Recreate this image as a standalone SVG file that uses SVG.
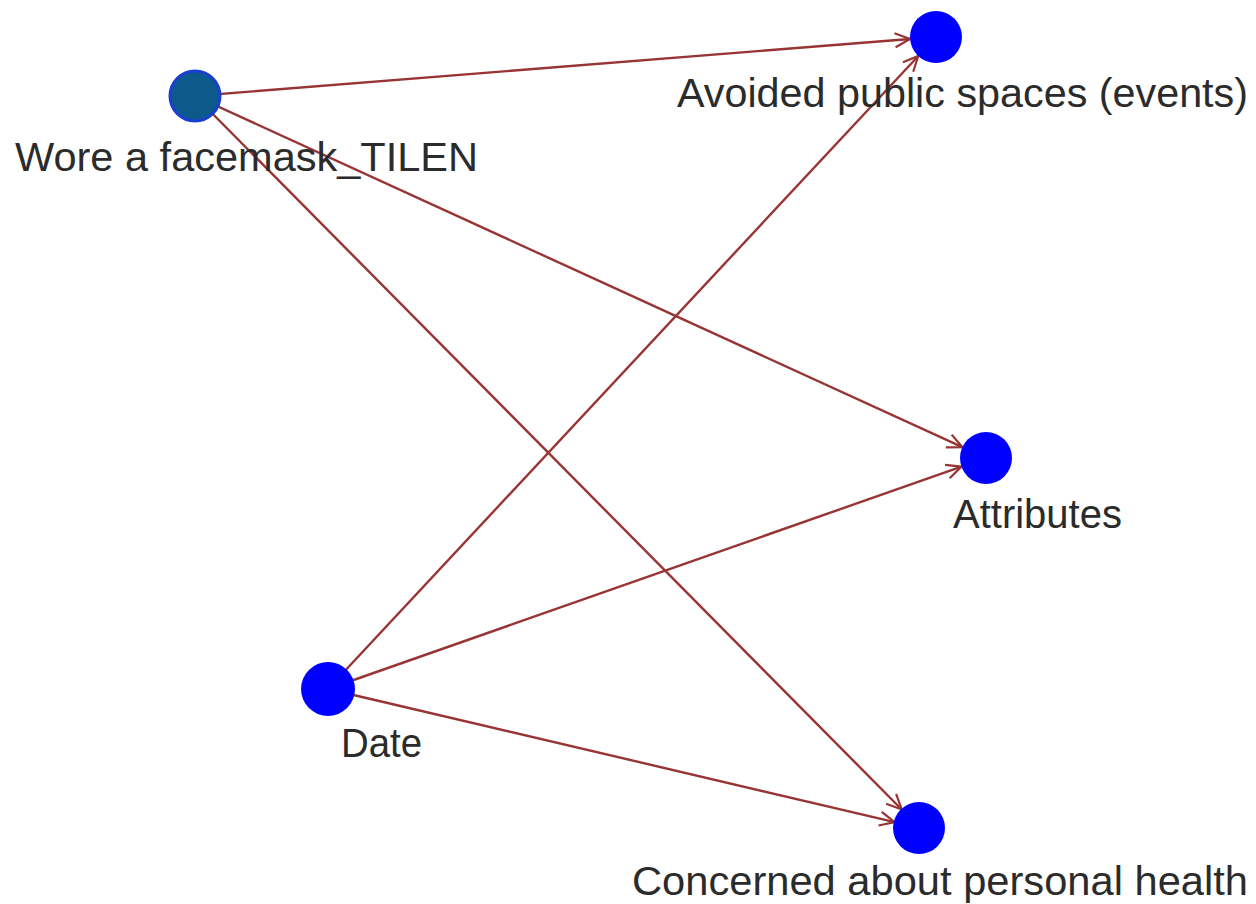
<svg xmlns="http://www.w3.org/2000/svg" width="1256" height="904" viewBox="0 0 1256 904">
<style>
.edge{stroke:#983434;stroke-width:2.4;fill:none;marker-end:url(#arr)}
.node{fill:#0000ff}
.lbl{font-family:"Liberation Sans",Arial,sans-serif;font-size:41px;fill:#2b2b2b}
</style>
<defs>
<marker id="arr" markerUnits="userSpaceOnUse" markerWidth="20" markerHeight="20" viewBox="-16 -10 20 20" refX="0" refY="0" orient="auto">
<path d="M-15,-7 L0,0 L-15,7" fill="none" stroke="#983434" stroke-width="2.2"/>
</marker>
</defs>
<rect width="1256" height="904" fill="#ffffff"/>
<g id="connectors">
<line class="edge" x1="195" y1="96" x2="910" y2="39"/>
<line class="edge" x1="195" y1="96" x2="962.4" y2="447.2"/>
<line class="edge" x1="195" y1="96" x2="901.7" y2="809.5"/>
<line class="edge" x1="328" y1="689" x2="918.3" y2="56"/>
<line class="edge" x1="328" y1="689" x2="961.5" y2="466.6"/>
<line class="edge" x1="328" y1="689" x2="894.7" y2="822.1"/>
</g>
<g id="node-wore">
<circle cx="195" cy="96" r="25" fill="#0c5a8c" stroke="#1a3fd0" stroke-width="3"/>
<text class="lbl" x="15" y="171" textLength="463" lengthAdjust="spacingAndGlyphs">Wore a facemask_TILEN</text>
</g>
<g id="node-avoided">
<circle class="node" cx="936" cy="37" r="26"/>
<text class="lbl" x="677" y="107" textLength="571" lengthAdjust="spacingAndGlyphs">Avoided public spaces (events)</text>
</g>
<g id="node-attributes">
<circle class="node" cx="986" cy="458" r="26"/>
<text class="lbl" x="953" y="528" textLength="169" lengthAdjust="spacingAndGlyphs">Attributes</text>
</g>
<g id="node-date">
<circle class="node" cx="328" cy="689" r="27"/>
<text class="lbl" x="341" y="757" textLength="81" lengthAdjust="spacingAndGlyphs">Date</text>
</g>
<g id="node-concerned">
<circle class="node" cx="919" cy="828" r="26"/>
<text class="lbl" x="632" y="895" textLength="616" lengthAdjust="spacingAndGlyphs">Concerned about personal health</text>
</g>
</svg>
